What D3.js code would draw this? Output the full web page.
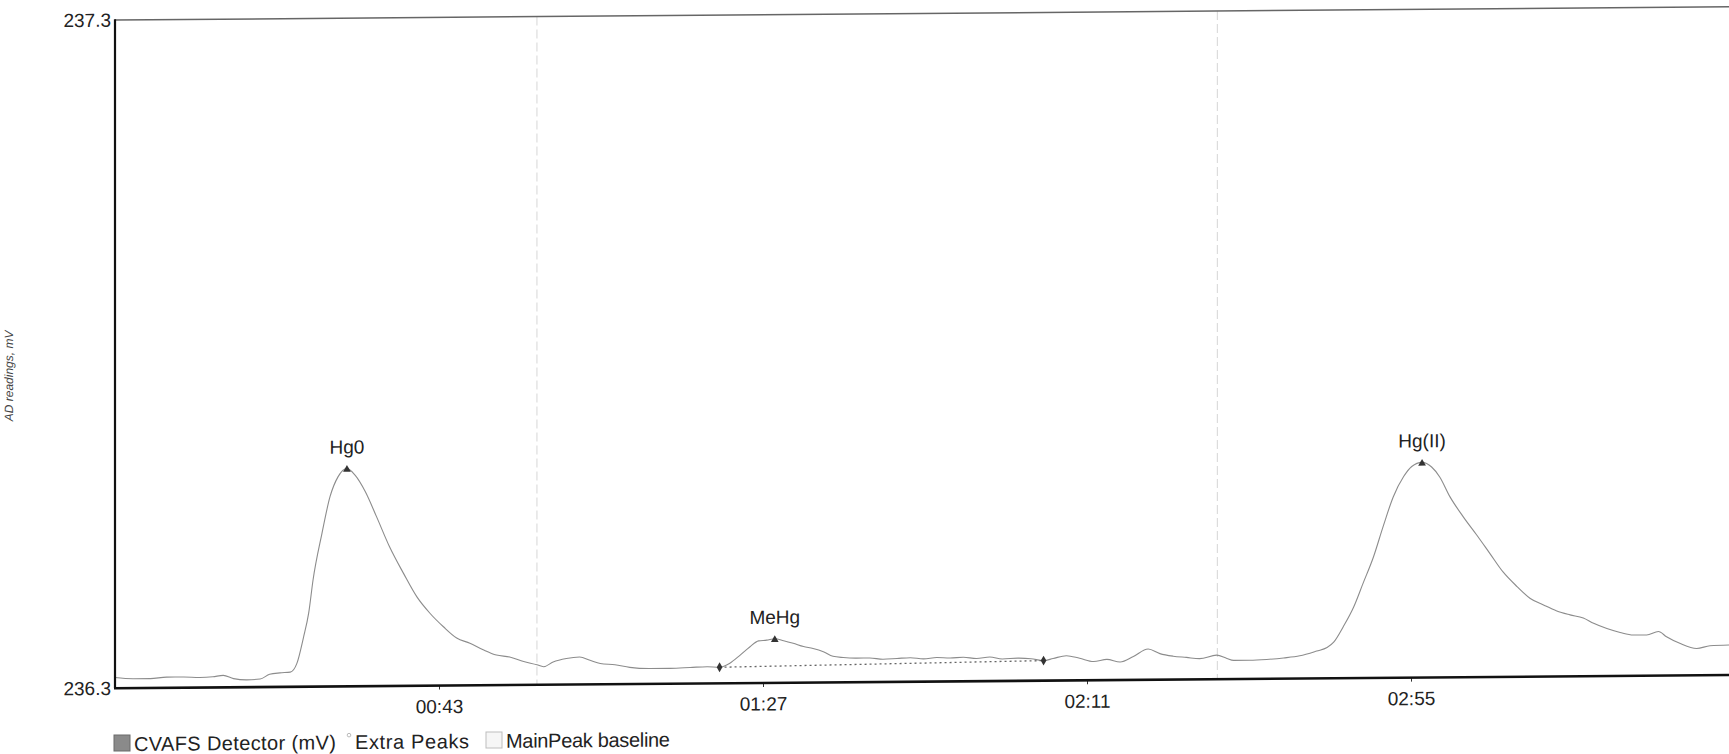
<!DOCTYPE html>
<html>
<head>
<meta charset="utf-8">
<script src="https://cdn.jsdelivr.net/npm/d3@7"></script>
<style>
  body { margin: 0; background: #fff; }
  svg { display: block; font-family: "Liberation Sans", Arial, sans-serif; }
</style>
</head>
<body>
<svg id="chart" width="1729" height="754"></svg>
<script>
// Detector trace: elapsed time (s) and reading (mV)
const timeSec = [
  -1, 1.5, 3.8, 6.0, 8.3, 10.5, 12.3, 13.7, 15.1, 16.9,
  18.7, 20.0, 21.4, 22.8, 23.7, 24.6, 25.3, 25.9, 27.1, 28.2,
  29.3, 30.5, 31.6, 33.0, 34.5, 36.3, 38.2, 40.0, 41.8, 43.6,
  45.4, 47.2, 49.0, 50.8, 52.6, 54.5, 56.3, 57.2, 58.5, 60.3,
  62.1, 63.5, 64.9, 66.9, 68.9, 71.7, 74.4, 77.1, 79.4, 81.1,
  82.5, 83.9, 85.2, 86.4, 87.5, 88.6, 89.8, 91.1, 92.5, 93.8,
  95.2, 96.5, 97.9, 99.7, 101.5, 103.3, 105.2, 107.0, 108.8, 110.6,
  112.4, 114.2, 116.0, 117.8, 119.5, 121.6, 123.4, 125.1, 126.4, 128.2,
  130.0, 131.9, 133.7, 135.5, 137.3, 139.3, 140.9, 142.7, 144.5, 146.3,
  148.6, 150.0, 150.9, 153.1, 155.4, 157.7, 159.9, 162.2, 163.6, 164.5,
  165.8, 167.2, 168.5, 169.9, 171.2, 172.6, 174.0, 175.1, 176.5, 177.8,
  178.9, 180.3, 182.1, 183.9, 185.7, 187.5, 189.4, 191.2, 193.0, 194.8,
  196.6, 198.4, 199.8, 201.6, 203.4, 205.2, 207.0, 208.6, 209.7, 211.5,
  213.8, 215.6, 218.2
];
const signalMv = [
  236.316, 236.314, 236.314, 236.316, 236.316, 236.315, 236.316, 236.318, 236.313, 236.311,
  236.312, 236.319, 236.321, 236.322, 236.335, 236.374, 236.410, 236.460, 236.529, 236.584,
  236.614, 236.626, 236.616, 236.591, 236.554, 236.508, 236.468, 236.433, 236.408, 236.388,
  236.371, 236.363, 236.353, 236.345, 236.342, 236.335, 236.330, 236.327, 236.334, 236.339,
  236.341, 236.336, 236.331, 236.329, 236.325, 236.323, 236.323, 236.324, 236.325, 236.324,
  236.330, 236.342, 236.354, 236.363, 236.364, 236.366, 236.363, 236.359, 236.354, 236.351,
  236.346, 236.339, 236.337, 236.336, 236.336, 236.334, 236.335, 236.336, 236.334, 236.336,
  236.335, 236.336, 236.334, 236.336, 236.333, 236.334, 236.333, 236.330, 236.333, 236.337,
  236.333, 236.328, 236.331, 236.327, 236.335, 236.346, 236.339, 236.335, 236.333, 236.331,
  236.336, 236.331, 236.328, 236.328, 236.329, 236.331, 236.334, 236.341, 236.346, 236.354,
  236.377, 236.406, 236.442, 236.481, 236.526, 236.571, 236.601, 236.616, 236.622, 236.615,
  236.600, 236.570, 236.540, 236.513, 236.485, 236.457, 236.435, 236.417, 236.407, 236.398,
  236.392, 236.387, 236.379, 236.371, 236.365, 236.361, 236.361, 236.366, 236.358, 236.348,
  236.340, 236.344, 236.345
];

// Identified peaks
const peakNames = ["Hg0", "MeHg", "Hg(II)"];
const peakTimes = [30.5, 88.6, 176.5];
const peakValues = [236.626, 236.366, 236.622];

// Integration baseline under the MeHg peak
const baselineTimes = [81.1, 125.1];
const baselineValues = [236.324, 236.330];

// Integration window separators
const windowTimes = [56.3, 148.7];

// Axes
const timeDomain = [-1, 219];
const mvDomain = [236.3, 237.3];
const xTickValues = [43, 87, 131, 175];
const yTickValues = [236.3, 237.3];
const yAxisTitle = "AD readings, mV";

const legendLabels = ["CVAFS Detector (mV)", "Extra Peaks", "MainPeak baseline"];

const svg = d3.select("#chart");
const plot = { left: 115, right: 1735, top: 21, bottom: 689.2 };

const x = d3.scaleLinear().domain(timeDomain).range([plot.left, plot.right]);
const y = d3.scaleLinear().domain(mvDomain).range([plot.bottom, plot.top]);

// the printed page sits slightly tilted
const g = svg.append("g").attr("transform", "skewY(-0.47)");

// window separators
g.append("g").selectAll("line")
  .data(windowTimes)
  .join("line")
  .attr("x1", d => x(d)).attr("x2", d => x(d))
  .attr("y1", plot.top).attr("y2", plot.bottom)
  .attr("stroke", "#d6d6d6")
  .attr("stroke-width", 1)
  .attr("stroke-dasharray", "9,4");

// detector trace
const trace = timeSec.map((t, i) => [t, signalMv[i]]);
g.append("path")
  .datum(trace)
  .attr("fill", "none")
  .attr("stroke", "#8c8c8c")
  .attr("stroke-width", 1.1)
  .attr("d", d3.line().x(d => x(d[0])).y(d => y(d[1])).curve(d3.curveMonotoneX));

// MeHg baseline
const base = baselineTimes.map((t, i) => [t, baselineValues[i]]);
g.append("path")
  .datum(base)
  .attr("fill", "none")
  .attr("stroke", "#666")
  .attr("stroke-width", 1.3)
  .attr("stroke-dasharray", "2,3")
  .attr("d", d3.line().x(d => x(d[0])).y(d => y(d[1])));

g.append("g").selectAll("path")
  .data(base)
  .join("path")
  .attr("transform", d => `translate(${x(d[0])},${y(d[1])})`)
  .attr("d", d3.symbol().type(d3.symbolDiamond).size(28))
  .attr("fill", "#333");

// peak apex markers and names
const peaks = peakNames.map((n, i) => ({ name: n, t: peakTimes[i], v: peakValues[i] }));
g.append("g").selectAll("path")
  .data(peaks)
  .join("path")
  .attr("transform", d => `translate(${x(d.t)},${y(d.v) + 1})`)
  .attr("d", d3.symbol().type(d3.symbolTriangle).size(26))
  .attr("fill", "#333");

g.append("g").selectAll("text")
  .data(peaks)
  .join("text")
  .attr("x", d => x(d.t))
  .attr("y", d => y(d.v) - 15)
  .attr("text-anchor", "middle")
  .attr("font-size", 19)
  .attr("fill", "#222")
  .text(d => d.name);

// axes
const fmtTime = s => d3.format("02d")(Math.floor(s / 60)) + ":" + d3.format("02d")(s % 60);

const xAxis = g.append("g")
  .attr("transform", `translate(0,${plot.bottom})`)
  .call(d3.axisBottom(x).tickValues(xTickValues).tickFormat(fmtTime).tickSize(4).tickPadding(10));
xAxis.select(".domain").remove();
xAxis.selectAll(".tick line").attr("stroke", "#333");
xAxis.selectAll("text").attr("font-size", 19).attr("fill", "#222")
  .style("font-family", "'Liberation Sans', Arial, sans-serif");

const yAxis = g.append("g")
  .attr("transform", `translate(${plot.left},0)`)
  .call(d3.axisLeft(y).tickValues(yTickValues).tickFormat(d3.format(".1f")).tickSize(0).tickPadding(4));
yAxis.select(".domain").remove();
yAxis.selectAll("text").attr("font-size", 19).attr("fill", "#222")
  .style("font-family", "'Liberation Sans', Arial, sans-serif");

// frame
g.append("line")
  .attr("x1", plot.left).attr("x2", plot.right)
  .attr("y1", plot.top).attr("y2", plot.top)
  .attr("stroke", "#666").attr("stroke-width", 1.5);
g.append("line")
  .attr("x1", plot.left).attr("x2", plot.left)
  .attr("y1", plot.top - 0.75).attr("y2", plot.bottom)
  .attr("stroke", "#111").attr("stroke-width", 2.2);
g.append("line")
  .attr("x1", plot.left - 1).attr("x2", plot.right)
  .attr("y1", plot.bottom).attr("y2", plot.bottom)
  .attr("stroke", "#111").attr("stroke-width", 2.6);

// y axis title
g.append("text")
  .attr("transform", `translate(13,376) rotate(-90)`)
  .attr("text-anchor", "middle")
  .attr("font-size", 12)
  .attr("font-style", "italic")
  .attr("fill", "#444")
  .text(yAxisTitle);

// legend
const legend = g.append("g").attr("font-size", 20).attr("fill", "#222");
legend.append("rect")
  .attr("x", 114).attr("y", 736).attr("width", 16).attr("height", 16)
  .attr("fill", "#8a8a8a").attr("stroke", "#6a6a6a");
legend.append("text").attr("x", 134).attr("y", 752).attr("textLength", 202).text(legendLabels[0]);
legend.append("circle")
  .attr("cx", 349).attr("cy", 738).attr("r", 1.8)
  .attr("fill", "none").attr("stroke", "#aaa").attr("stroke-width", 0.8);
legend.append("text").attr("x", 355).attr("y", 752).attr("textLength", 114).text(legendLabels[1]);
legend.append("rect")
  .attr("x", 486).attr("y", 736).attr("width", 16).attr("height", 16)
  .attr("fill", "#f6f6f6").attr("stroke", "#bdbdbd");
legend.append("text").attr("x", 506).attr("y", 752).attr("textLength", 164).text(legendLabels[2]);
</script>
</body>
</html>
